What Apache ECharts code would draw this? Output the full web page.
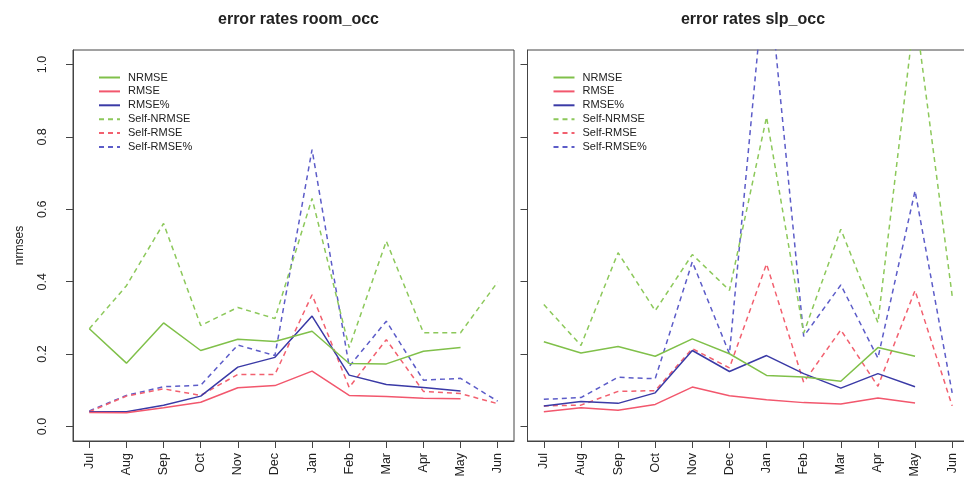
<!DOCTYPE html>
<html>
<head>
<meta charset="utf-8">
<script src="https://cdn.jsdelivr.net/npm/echarts@6/dist/echarts.min.js"></script>
<style>
html,body{margin:0;padding:0;background:#fff;}
#c{width:964px;height:482px;}
</style>
</head>
<body>
<div id="c"></div>
<script>
const months = ['Jul','Aug','Sep','Oct','Nov','Dec','Jan','Feb','Mar','Apr','May','Jun'];
const yTicks = [0, 0.2, 0.4, 0.6, 0.8, 1.0];
const seriesNames = ['NRMSE','RMSE','RMSE%','Self-NRMSE','Self-RMSE','Self-RMSE%'];
const titles = ['error rates room_occ','error rates slp_occ'];

// room_occ panel
const roomNRMSE     = [0.270,0.175,0.286,0.210,0.241,0.235,0.263,0.174,0.173,0.208,0.218,null];
const roomRMSE      = [0.039,0.038,0.052,0.067,0.107,0.113,0.153,0.086,0.083,0.078,0.077,null];
const roomRMSEpct   = [0.041,0.041,0.059,0.084,0.164,0.191,0.305,0.142,0.116,0.108,0.098,null];
const roomSelfNRMSE = [0.270,0.389,0.561,0.279,0.329,0.298,0.630,0.218,0.512,0.259,0.259,0.399];
const roomSelfRMSE  = [0.041,0.084,0.104,0.086,0.144,0.144,0.364,0.108,0.240,0.097,0.091,0.063];
const roomSelfRMSEpct = [0.043,0.086,0.110,0.114,0.225,0.196,0.765,0.166,0.291,0.128,0.133,0.070];

// slp_occ panel
const slpNRMSE     = [0.234,0.203,0.221,0.194,0.242,0.201,0.141,0.137,0.125,0.218,0.194,null];
const slpRMSE      = [0.041,0.052,0.045,0.061,0.109,0.085,0.074,0.066,0.062,0.079,0.065,null];
const slpRMSEpct   = [0.057,0.069,0.064,0.093,0.210,0.152,0.196,0.146,0.106,0.146,0.110,null];
const slpSelfNRMSE = [0.337,0.224,0.480,0.320,0.475,0.376,0.855,0.258,0.545,0.287,1.150,0.361];
const slpSelfRMSE  = [0.057,0.059,0.097,0.099,0.215,0.162,0.449,0.122,0.267,0.111,0.376,0.057];
const slpSelfRMSEpct = [0.075,0.080,0.136,0.132,0.455,0.201,1.300,0.249,0.391,0.189,0.651,0.093];

const panels = [
  [roomNRMSE, roomRMSE, roomRMSEpct, roomSelfNRMSE, roomSelfRMSE, roomSelfRMSEpct],
  [slpNRMSE, slpRMSE, slpRMSEpct, slpSelfNRMSE, slpSelfRMSE, slpSelfRMSEpct]
];

const colors = ['#80c04a','#f2576d','#3a3aa6','#8cc85a','#f2606f','#5c5cc8'];
const dashed = [false,false,false,true,true,true];
const FONT = '"Liberation Sans", Arial, sans-serif';
const textColor = '#222';
const gridLefts = [73, 527.5];
const gridW = 441, gridTop = 50, gridH = 391;
const xIdx = months.map((m,i)=>i+1);

const chart = echarts.init(document.getElementById('c'), null, {renderer:'canvas'});

const grids = [], xAxes = [], yAxes = [], series = [], legends = [], titleArr = [];
panels.forEach((arrs, p) => {
  grids.push({left: gridLefts[p], top: gridTop, width: gridW, height: gridH,
    outerBoundsMode: 'none', containLabel: false,
    show: true, borderColor: '#444', borderWidth: 1, backgroundColor: 'transparent'});
  titleArr.push({text: titles[p], left: gridLefts[p] + gridW/2, top: 7, textAlign: 'center',
    textStyle: {fontFamily: FONT, fontSize: 16, fontWeight: 'bold', color: textColor}});
  xAxes.push({type: 'value', gridIndex: p, min: 0.56, max: 12.44, position: 'bottom',
    axisLine: {show: true, onZero: false, lineStyle: {color: '#444', width: 1}},
    axisTick: {show: true, length: 7, customValues: xIdx, lineStyle: {color: '#444'}},
    axisLabel: {show: true, rotate: 90, margin: 12, customValues: xIdx,
      formatter: v => months[Math.round(v) - 1] || '',
      fontFamily: FONT, fontSize: 12.5, color: textColor},
    splitLine: {show: false}});
  yAxes.push({type: 'value', gridIndex: p, min: -0.04, max: 1.04, position: 'left',
    name: p === 0 ? 'nrmses' : '', nameLocation: 'middle', nameGap: 47,
    nameTextStyle: {fontFamily: FONT, fontSize: 12, color: textColor},
    axisLine: {show: true, onZero: false, lineStyle: {color: '#444', width: 1}},
    axisTick: {show: true, length: 7, customValues: yTicks, lineStyle: {color: '#444'}},
    axisLabel: {show: p === 0, rotate: 90, margin: 24, customValues: yTicks,
      formatter: v => v.toFixed(1), fontFamily: FONT, fontSize: 12.5, color: textColor},
    splitLine: {show: false}});
  arrs.forEach((arr, k) => {
    series.push({name: seriesNames[k], type: 'line', xAxisIndex: p, yAxisIndex: p,
      data: arr.map((v, i) => [xIdx[i], v]),
      symbol: 'none', clip: true, connectNulls: false, animation: false,
      color: colors[k],
      lineStyle: {color: colors[k], width: 1.5, type: dashed[k] ? [5, 4] : 'solid'},
      z: 10 - k});
  });
  legends.push({orient: 'vertical', left: gridLefts[p] + 25, top: 72, padding: 0,
    data: seriesNames, itemWidth: 21, itemHeight: 10, itemGap: 2.9, selectedMode: false,
    itemStyle: {opacity: 0},
    textStyle: {fontFamily: FONT, fontSize: 11, color: textColor, lineHeight: 10,
      padding: [0, 0, 0, 3]}});
});

chart.setOption({
  backgroundColor: '#fff',
  animation: false,
  title: titleArr,
  grid: grids,
  xAxis: xAxes,
  yAxis: yAxes,
  legend: legends,
  series: series
});
</script>
</body>
</html>
